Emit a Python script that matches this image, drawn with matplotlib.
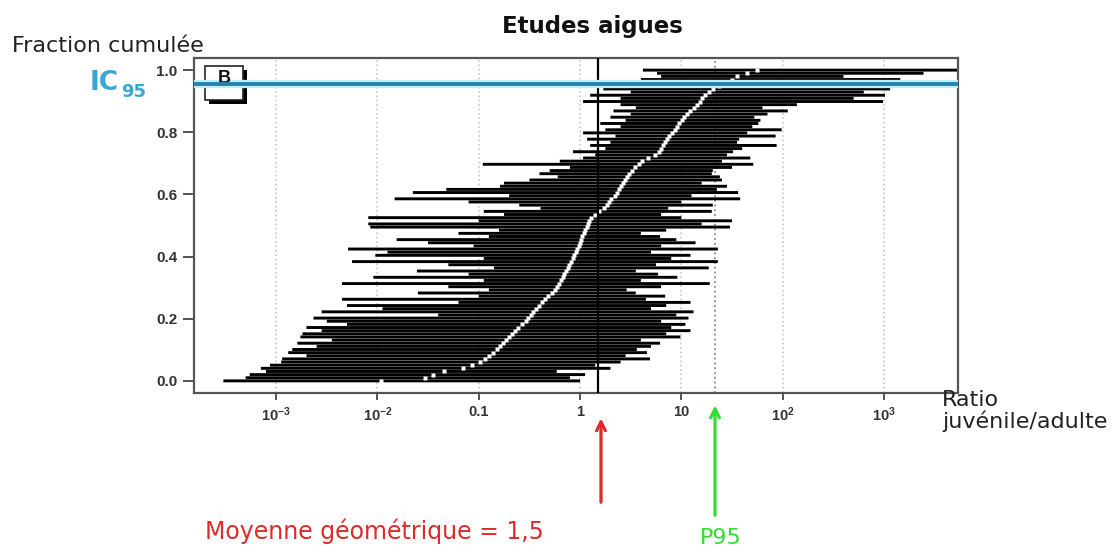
import matplotlib
matplotlib.use("Agg")
import matplotlib.pyplot as plt
from matplotlib.patches import Rectangle
import numpy as np

# log10 of juvenile/adult ratio per study, sorted by median
med_log = [-1.96, -1.53, -1.45, -1.34, -1.16, -1.07, -0.99, -0.94, -0.90, -0.86,
           -0.82, -0.79, -0.76, -0.73, -0.70, -0.67, -0.64, -0.61, -0.57, -0.53,
           -0.51, -0.48, -0.46, -0.43, -0.41, -0.38, -0.35, -0.32, -0.28, -0.25,
           -0.23, -0.21, -0.19, -0.17, -0.16, -0.14, -0.12, -0.11, -0.09, -0.07,
           -0.06, -0.04, -0.03, -0.01, 0.00, 0.01, 0.02, 0.04, 0.05, 0.07,
           0.08, 0.09, 0.11, 0.15, 0.19, 0.24, 0.27, 0.29, 0.31, 0.34,
           0.36, 0.38, 0.40, 0.42, 0.44, 0.46, 0.48, 0.51, 0.54, 0.58,
           0.61, 0.67, 0.74, 0.78, 0.80, 0.82, 0.84, 0.86, 0.88, 0.91,
           0.94, 0.96, 0.98, 1.01, 1.03, 1.06, 1.09, 1.12, 1.15, 1.18,
           1.20, 1.23, 1.27, 1.31, 1.37, 1.45, 1.50, 1.55, 1.65, 1.75]

low_log = [-3.52, -3.30, -3.26, -3.10, -3.15, -3.06, -2.95, -2.94, -2.70, -2.88,
           -2.84, -2.60, -2.79, -2.45, -2.76, -2.74, -2.55, -2.70, -2.30, -2.50,
           -2.63, -1.40, -2.55, -1.95, -2.30, -1.20, -2.35, -1.00, -1.60, -0.90,
           -1.30, -2.35, -0.95, -2.04, -1.10, -1.61, -0.85, -1.30, -2.25, -0.95,
           -2.02, -1.90, -2.29, -1.05, -1.50, -1.81, -0.90, -1.20, -0.80, -2.07,
           -2.09, -1.00, -2.09, -0.75, -0.95, -0.39, -0.60, -1.10, -1.83, -0.70,
           -1.65, -1.32, -0.79, -0.75, -0.50, -0.22, -0.40, -0.30, -0.10, -0.96,
           -0.20, 0.03, 0.15, -0.07, 0.25, 0.10, 0.30, 0.07, 0.35, 0.03,
           0.25, 0.40, 0.20, 0.45, 0.30, 0.50, 0.33, 0.55, 0.40, 0.03,
           0.40, 0.10, 0.50, 0.23, 0.35, 0.46, 0.60, 0.80, 0.76, 0.62]

high_log = [0.00, -0.10, 0.05, -0.23, 0.30, 0.15, 0.40, 0.69, 0.45, 0.66,
            0.56, 0.70, 0.79, 0.60, 0.99, 0.85, 1.09, 0.90, 1.04, 0.80,
            1.07, 0.95, 1.12, 0.70, 0.85, 1.09, 0.65, 0.84, 0.55, 0.46,
            0.80, 1.28, 0.60, 0.96, 0.77, 0.55, 1.27, 0.75, 1.36, 0.90,
            1.09, 0.70, 1.36, 0.80, 1.14, 0.95, 0.79, 0.60, 0.85, 1.48,
            1.20, 1.50, 1.00, 0.80, 1.30, 0.87, 1.31, 1.00, 1.58, 1.10,
            1.56, 1.35, 1.45, 1.20, 1.40, 1.38, 1.30, 1.31, 1.50, 1.71,
            1.40, 1.68, 1.45, 1.51, 1.60, 1.94, 1.55, 1.57, 1.93, 1.65,
            1.99, 1.70, 1.76, 1.78, 1.72, 1.85, 2.05, 1.80, 2.14, 2.99,
            2.70, 3.01, 2.80, 3.06, 2.90, 2.95, 3.16, 2.60, 3.39, 3.72]

geo_mean = 1.5
p95 = 21.5
ic95 = 0.955

xtick_vals = [1e-3, 1e-2, 0.1, 1, 10, 1e2, 1e3]
xtick_labels = [r"$\mathbf{10^{-3}}$", r"$\mathbf{10^{-2}}$", "0.1", "1", "10",
                r"$\mathbf{10^{2}}$", r"$\mathbf{10^{3}}$"]
ytick_vals = [0.0, 0.2, 0.4, 0.6, 0.8, 1.0]

plt.rcParams["mathtext.fontset"] = "custom"
plt.rcParams["mathtext.rm"] = "Liberation Sans"
plt.rcParams["mathtext.bf"] = "Liberation Sans:bold"

W, H = 1115, 551
fig = plt.figure(figsize=(W / 100, H / 100), dpi=100)
ax = fig.add_axes([194 / W, 1 - 393 / H, 764 / W, 335 / H])

n = len(med_log)
frac = np.arange(n) / (n - 1)
med = 10 ** np.array(med_log)
low = 10 ** np.array(low_log)
high = 10 ** np.array(high_log)

ax.set_xscale("log")
ax.set_xlim(10 ** -3.81, 10 ** 3.73)
ax.set_ylim(-0.039, 1.039)

# dotted decade grid + P95
for v in xtick_vals:
    ax.axvline(v, color="#c8c8c8", ls=":", lw=1.2, zorder=0)
ax.axvline(p95, color="#8a8a8a", ls=":", lw=1.3, zorder=0)

segs = ax.hlines(frac, low, high, colors="black", lw=2.1, zorder=2)
segs.set_snap(False)
ax.plot(med, frac, "s", color="white", ms=2.5, mec="none", zorder=3)

ax.axvline(geo_mean, color="black", lw=1.6, zorder=4)

# "B" panel box with shadow
ax.add_patch(Rectangle((0.019, 0.864), 0.05, 0.10, transform=ax.transAxes,
                       facecolor="black", edgecolor="none", zorder=4, clip_on=False))
ax.add_patch(Rectangle((0.014, 0.875), 0.05, 0.10, transform=ax.transAxes,
                       facecolor="white", edgecolor="#222222", lw=1.2, zorder=4.5, clip_on=False))

# IC95 line with light halo
ax.axhline(ic95, color="#b8f2ff", lw=6, zorder=5)
ax.text(0.039, 0.94, "B", transform=ax.transAxes, ha="center", va="center",
        fontsize=13, fontweight="bold", family="Liberation Sans", color="#111111", zorder=5.5)
ax.axhline(ic95, color="#2a80a8", lw=2.8, zorder=6)

ax.set_xticks(xtick_vals)
ax.set_xticklabels(xtick_labels)
ax.minorticks_off()
ax.set_yticks(ytick_vals)
ax.set_yticklabels(["%.1f" % v for v in ytick_vals])
for lab in ax.get_xticklabels() + ax.get_yticklabels():
    lab.set_family("Liberation Sans")
    lab.set_fontweight("bold")
    lab.set_color("#333333")
for lab in ax.get_yticklabels():
    lab.set_fontsize(11)
for lab in ax.get_xticklabels():
    lab.set_fontsize(10.5)
ax.tick_params(axis="y", direction="out", length=8, width=1.3, color="#444444", pad=4)
ax.tick_params(axis="x", direction="out", length=5, width=1.3, color="#444444", pad=4)
for s in ax.spines.values():
    s.set_color("#555555")
    s.set_linewidth(1.6)

def fx(px):
    return px / W

def fy(py):
    return 1 - py / H

fig.text(fx(592), fy(26), "Etudes aigues", ha="center", va="center",
         fontsize=16.5, fontweight="bold", family="DejaVu Sans", color="#111111")
fig.text(fx(12), fy(46), "Fraction cumulée", ha="left", va="center",
         fontsize=16, family="DejaVu Sans", color="#222222")
fig.text(fx(90), fy(83), "IC", ha="left", va="center",
         fontsize=19, fontweight="bold", family="DejaVu Sans", color="#3aa6d6")
fig.text(fx(121), fy(92), "95", ha="left", va="center",
         fontsize=13, fontweight="bold", family="DejaVu Sans", color="#3aa6d6")
fig.text(fx(942), fy(411), "Ratio\njuvénile/adulte", ha="left", va="center",
         fontsize=16, family="DejaVu Sans", color="#222222", linespacing=1.05)

fig.text(fx(205), fy(531), "Moyenne géométrique = 1,5", ha="left", va="center",
         fontsize=17, family="DejaVu Sans", color="#dd2a2a")
fig.text(fx(700), fy(538), "P95", ha="left", va="center",
         fontsize=16, family="DejaVu Sans", color="#33dd33")

fig.add_artist(plt.annotate("", xy=(fx(601), fy(416)), xytext=(fx(601), fy(505)),
                            xycoords="figure fraction", textcoords="figure fraction",
                            arrowprops=dict(arrowstyle="->", color="#dd2a2a", lw=2,
                                            mutation_scale=16)))
fig.add_artist(plt.annotate("", xy=(fx(715), fy(403)), xytext=(fx(715), fy(518)),
                            xycoords="figure fraction", textcoords="figure fraction",
                            arrowprops=dict(arrowstyle="->", color="#33dd33", lw=2,
                                            mutation_scale=16)))

fig.savefig("out.png", dpi=100)
